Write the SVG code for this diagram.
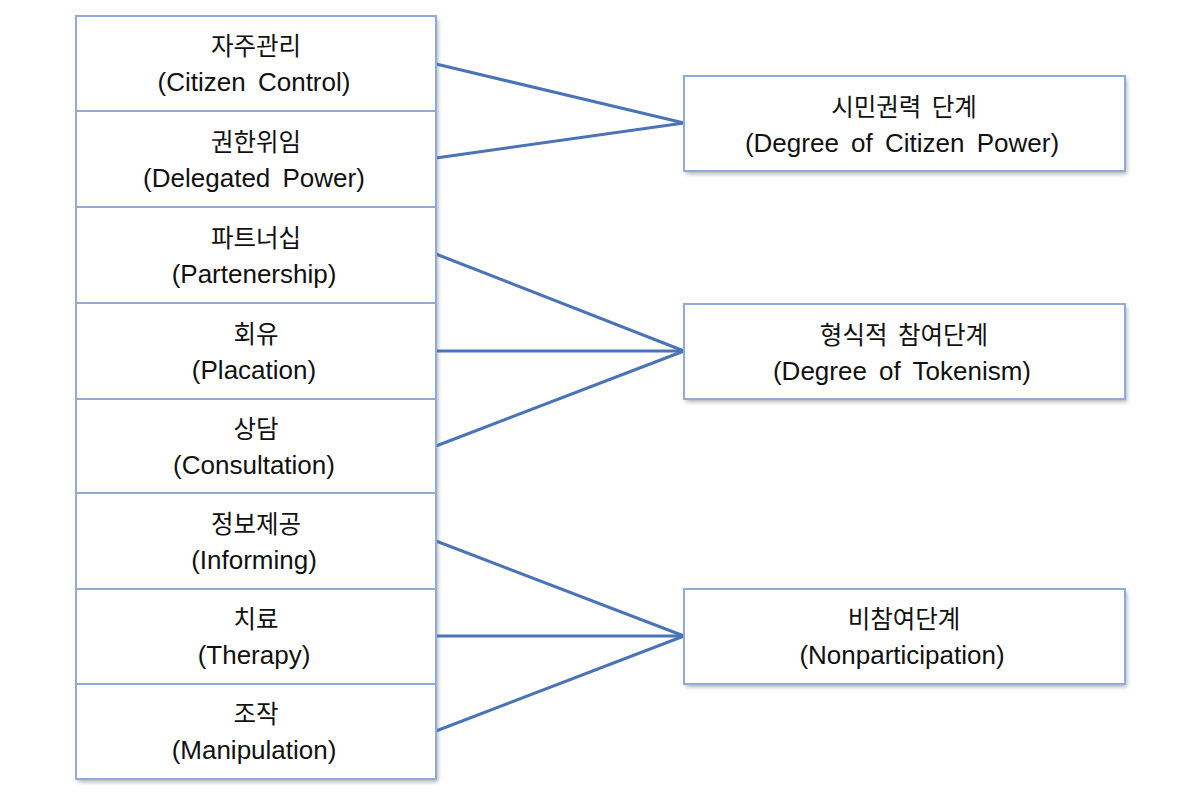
<svg xmlns="http://www.w3.org/2000/svg" width="1187" height="803" viewBox="0 0 1187 803">
<style>
.box{fill:#fff;stroke:#8fabd9;stroke-width:2}
.t{font-family:"Liberation Sans","Noto Sans CJK KR",sans-serif;font-size:26px;fill:#111;text-anchor:middle;word-spacing:5px}
.k{font-family:"Noto Sans CJK KR",sans-serif;font-size:24.5px;fill:#111;text-anchor:middle;word-spacing:5px}
.c{stroke:#4a74b6;stroke-width:3;fill:none}
</style>
<defs>
<filter id="sh" x="-5%" y="-5%" width="110%" height="115%">
<feDropShadow dx="2" dy="3" stdDeviation="2" flood-color="#000" flood-opacity="0.3"/>
</filter>
</defs>
<rect width="1187" height="803" fill="#fff"/>
<g filter="url(#sh)">
<rect x="76" y="16" width="360" height="763" fill="#fff"/>
<rect x="684" y="76" width="441" height="95" fill="#fff"/>
<rect x="684" y="304" width="441" height="95" fill="#fff"/>
<rect x="684" y="589" width="441" height="95" fill="#fff"/>
</g>
<g id="connectors">
<line class="c" x1="436" y1="64" x2="684" y2="123"/>
<line class="c" x1="436" y1="158" x2="684" y2="123"/>
<line class="c" x1="436" y1="254" x2="684" y2="351"/>
<line class="c" x1="436" y1="351" x2="684" y2="351"/>
<line class="c" x1="436" y1="446" x2="684" y2="351"/>
<line class="c" x1="436" y1="541" x2="684" y2="636"/>
<line class="c" x1="436" y1="636" x2="684" y2="636"/>
<line class="c" x1="436" y1="731" x2="684" y2="636"/>
</g>
<g id="n1"><rect class="box" x="76" y="16" width="360" height="95"/><text class="k" x="256" y="55">자주관리</text><text class="t" x="254" y="91">(Citizen Control)</text></g>
<g id="n2"><rect class="box" x="76" y="111" width="360" height="96"/><text class="k" x="256" y="151">권한위임</text><text class="t" x="254" y="187">(Delegated Power)</text></g>
<g id="n3"><rect class="box" x="76" y="207" width="360" height="96"/><text class="k" x="256" y="247">파트너십</text><text class="t" x="254" y="283">(Partenership)</text></g>
<g id="n4"><rect class="box" x="76" y="303" width="360" height="96"/><text class="k" x="256" y="343">회유</text><text class="t" x="254" y="379">(Placation)</text></g>
<g id="n5"><rect class="box" x="76" y="399" width="360" height="94"/><text class="k" x="256" y="438">상담</text><text class="t" x="254" y="474">(Consultation)</text></g>
<g id="n6"><rect class="box" x="76" y="493" width="360" height="96"/><text class="k" x="256" y="533">정보제공</text><text class="t" x="254" y="569">(Informing)</text></g>
<g id="n7"><rect class="box" x="76" y="589" width="360" height="95"/><text class="k" x="256" y="628">치료</text><text class="t" x="254" y="664">(Therapy)</text></g>
<g id="n8"><rect class="box" x="76" y="684" width="360" height="95"/><text class="k" x="256" y="723">조작</text><text class="t" x="254" y="759">(Manipulation)</text></g>
<g id="r1"><rect class="box" x="684" y="76" width="441" height="95"/><text class="k" x="904" y="116">시민권력 단계</text><text class="t" x="902" y="152">(Degree of Citizen Power)</text></g>
<g id="r2"><rect class="box" x="684" y="304" width="441" height="95"/><text class="k" x="904" y="344">형식적 참여단계</text><text class="t" x="902" y="380">(Degree of Tokenism)</text></g>
<g id="r3"><rect class="box" x="684" y="589" width="441" height="95"/><text class="k" x="904" y="628">비참여단계</text><text class="t" x="902" y="664">(Nonparticipation)</text></g>
</svg>
